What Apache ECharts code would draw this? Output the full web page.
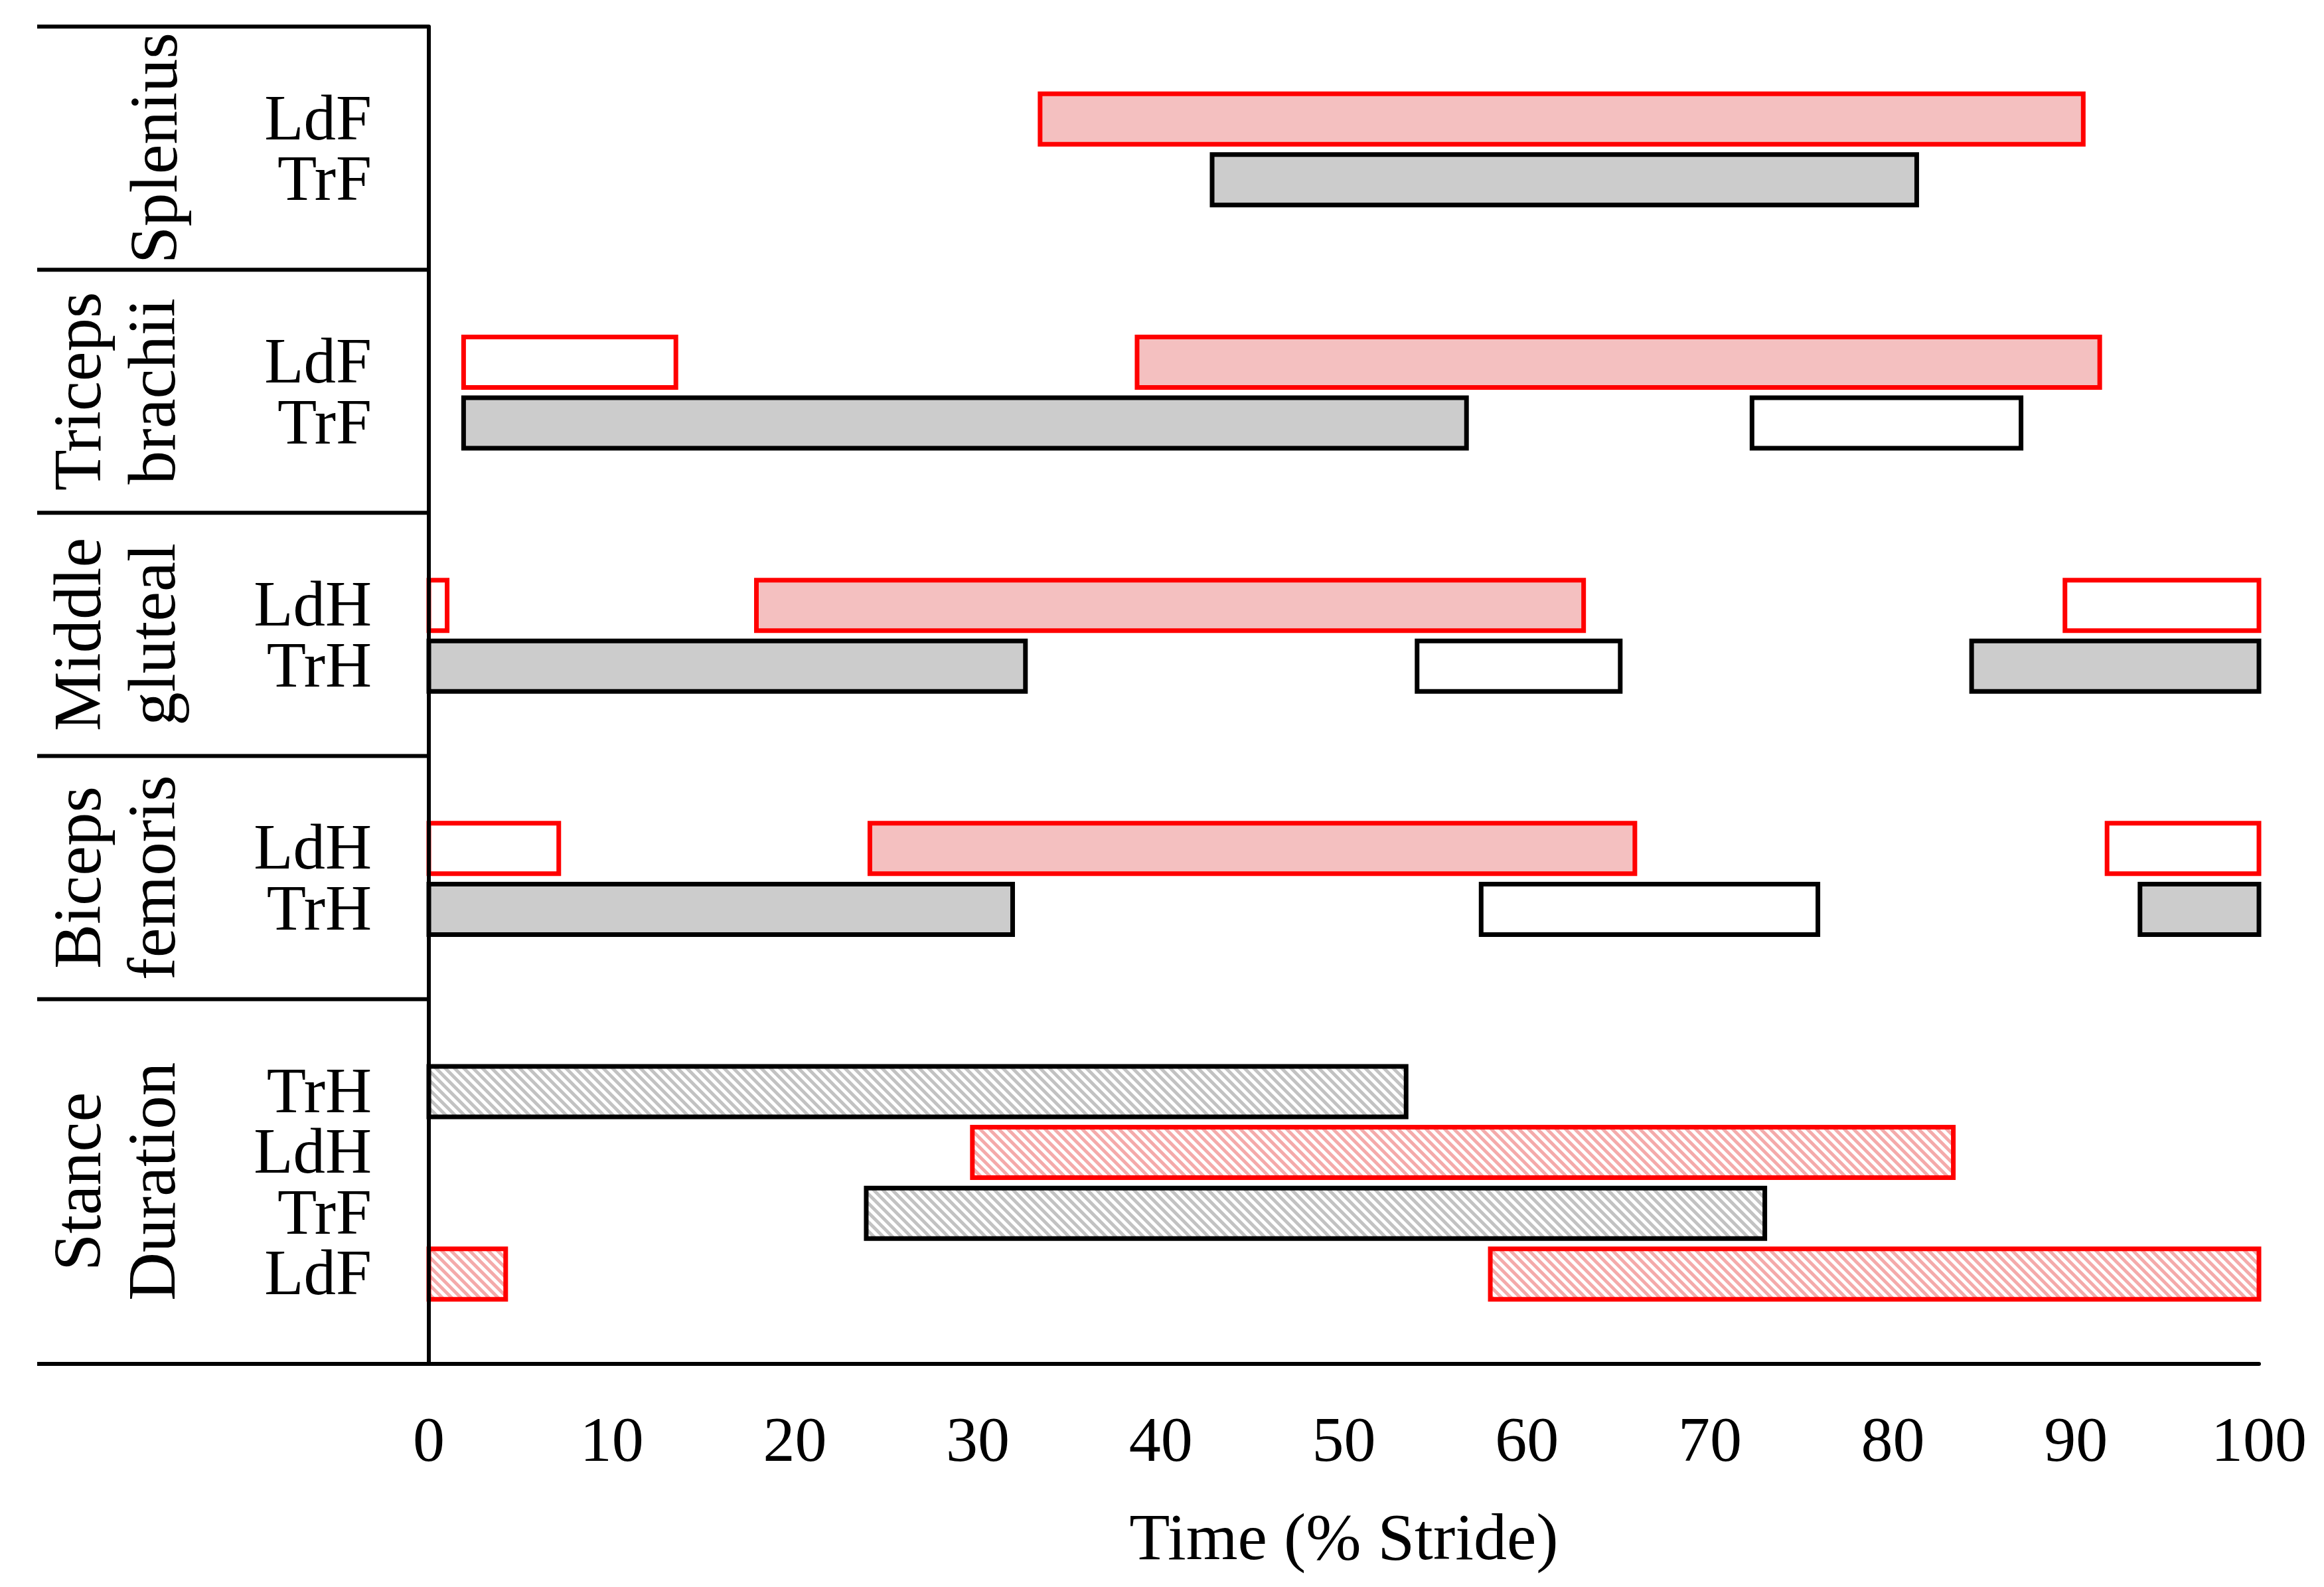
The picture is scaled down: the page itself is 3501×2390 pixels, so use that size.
<!DOCTYPE html>
<html>
<head>
<meta charset="utf-8">
<script src="https://cdn.jsdelivr.net/npm/echarts@6/dist/echarts.min.js"></script>
<style>
html,body{margin:0;padding:0;background:#fff;}
#chart{width:3501px;height:2390px;}
</style>
</head>
<body>
<div id="chart"></div>
<script>
// ---- Data ----
// Row labels (category slots, top to bottom; blanks are spacer slots)
const rowLabels = ['', 'LdF', 'TrF', '', '', 'LdF', 'TrF', '', '', 'LdH', 'TrH', '', '', 'LdH', 'TrH', '', '', 'TrH', 'LdH', 'TrF', 'LdF', ''];
// Group names (lines) and the category slot boundaries of each group
const groupNames = [['Splenius'], ['Triceps', 'brachii'], ['Middle', 'gluteal'], ['Biceps', 'femoris'], ['Stance', 'Duration']];
const groupBounds = [0, 4, 8, 12, 16, 22];
// X axis ticks
const xTicks = [0, 10, 20, 30, 40, 50, 60, 70, 80, 90, 100];
const xTitle = 'Time (% Stride)';
// Bars: [row slot, start %, end %]
const ldActive = [[1, 33.4, 90.4], [5, 38.7, 91.3], [9, 17.9, 63.1], [13, 24.1, 65.9]];
const ldOpen = [[5, 1.9, 13.5], [9, 0, 1.0], [9, 89.4, 100], [13, 0, 7.1], [13, 91.7, 100]];
const trActive = [[2, 42.8, 81.3], [6, 1.9, 56.7], [10, 0, 32.6], [10, 84.3, 100], [14, 0, 31.9], [14, 93.5, 100]];
const trOpen = [[6, 72.3, 87.0], [10, 54.0, 65.1], [14, 57.5, 75.9]];
const trStance = [[17, 0, 53.4], [19, 23.9, 73.0]];
const ldStance = [[18, 29.7, 83.3], [20, 0, 4.2], [20, 58.0, 100]];

// ---- Styles ----
const FONT = 'Liberation Serif';
const RED = '#ff0000', PINK = '#f4c0c0', GRAY = '#cccccc', BLACK = '#000000';

function makeHatch(color) {
  const s = 14;
  const c = document.createElement('canvas');
  c.width = s; c.height = s;
  const ctx = c.getContext('2d');
  ctx.fillStyle = '#ffffff';
  ctx.fillRect(0, 0, s, s);
  ctx.strokeStyle = color;
  ctx.lineWidth = 5;
  ctx.beginPath();
  for (let k = -1; k <= 1; k++) {
    ctx.moveTo(k * s - s, -s);
    ctx.lineTo(k * s + 2 * s, 2 * s);
  }
  ctx.stroke();
  return { image: c, repeat: 'repeat' };
}

function barSeries(name, data, fill, stroke) {
  return {
    name: name,
    type: 'custom',
    coordinateSystem: 'cartesian2d',
    encode: { x: [1, 2], y: 0 },
    data: data,
    z: 2,
    renderItem: function (params, api) {
      const row = api.value(0);
      const p0 = api.coord([api.value(1), row]);
      const p1 = api.coord([api.value(2), row]);
      const h = api.size([0, 1])[1] * 0.83;
      return {
        type: 'rect',
        shape: { x: p0[0], y: p0[1] - h / 2 + 2, width: p1[0] - p0[0], height: h },
        style: { fill: fill, stroke: stroke, lineWidth: 7 }
      };
    }
  };
}

const chart = echarts.init(document.getElementById('chart'), null, { renderer: 'canvas', devicePixelRatio: 1 });

const option = {
  backgroundColor: '#ffffff',
  animation: false,
  grid: { left: 646, right: 98, top: 40, bottom: 336, containLabel: false },
  xAxis: {
    type: 'value', min: xTicks[0], max: xTicks[xTicks.length - 1], interval: 10,
    axisLine: { show: true, lineStyle: { color: BLACK, width: 6 } },
    axisTick: { show: false },
    splitLine: { show: false },
    axisLabel: { color: BLACK, fontFamily: FONT, fontSize: 96, margin: 73 },
    name: xTitle, nameLocation: 'middle', nameGap: 218,
    nameTextStyle: { color: BLACK, fontFamily: FONT, fontSize: 100 }
  },
  yAxis: {
    type: 'category', inverse: true, data: rowLabels, z: 5,
    axisLine: { show: true, lineStyle: { color: BLACK, width: 6 } },
    axisTick: { show: false },
    splitLine: { show: false },
    axisLabel: {
      interval: 0, color: BLACK, fontFamily: FONT, fontSize: 97, margin: 86,
      formatter: function (v) { return v ? '{r|' + v + '}' : ''; },
      rich: { r: { color: BLACK, fontFamily: FONT, fontSize: 97, padding: [14, 0, 0, 0] } }
    }
  },
  series: [
    barSeries('LdActive', ldActive, PINK, RED),
    barSeries('LdOpen', ldOpen, '#ffffff', RED),
    barSeries('TrActive', trActive, GRAY, BLACK),
    barSeries('TrOpen', trOpen, '#ffffff', BLACK),
    barSeries('TrStance', trStance, makeHatch('#c2c2c2'), BLACK),
    barSeries('LdStance', ldStance, makeHatch('#f4aaaa'), RED)
  ]
};
chart.setOption(option);

// ---- Left table lines & group labels (positions derived from axes) ----
const tableLeft = 56;
const x0 = chart.convertToPixel({ xAxisIndex: 0 }, xTicks[0]);
const c0 = chart.convertToPixel({ yAxisIndex: 0 }, 0);
const c1 = chart.convertToPixel({ yAxisIndex: 0 }, 1);
const band = c1 - c0;
const boundaryY = (i) => c0 - band / 2 + i * band;

const graphics = [];
groupBounds.forEach(function (b) {
  const y = boundaryY(b);
  graphics.push({
    type: 'line', z: 10,
    shape: { x1: tableLeft, y1: y, x2: x0, y2: y },
    style: { stroke: BLACK, lineWidth: 6 }
  });
});
const lineX = [124, 236];
groupNames.forEach(function (lines, gi) {
  const yMid = (boundaryY(groupBounds[gi]) + boundaryY(groupBounds[gi + 1])) / 2;
  lines.forEach(function (txt, li) {
    const x = lines.length === 1 ? 239 : lineX[li];
    graphics.push({
      type: 'text', z: 10,
      x: x, y: yMid, rotation: Math.PI / 2,
      style: { text: txt, fill: BLACK, font: '101px "Liberation Serif"', align: 'center', verticalAlign: 'middle' }
    });
  });
});
chart.setOption({ graphic: graphics });
</script>
</body>
</html>
